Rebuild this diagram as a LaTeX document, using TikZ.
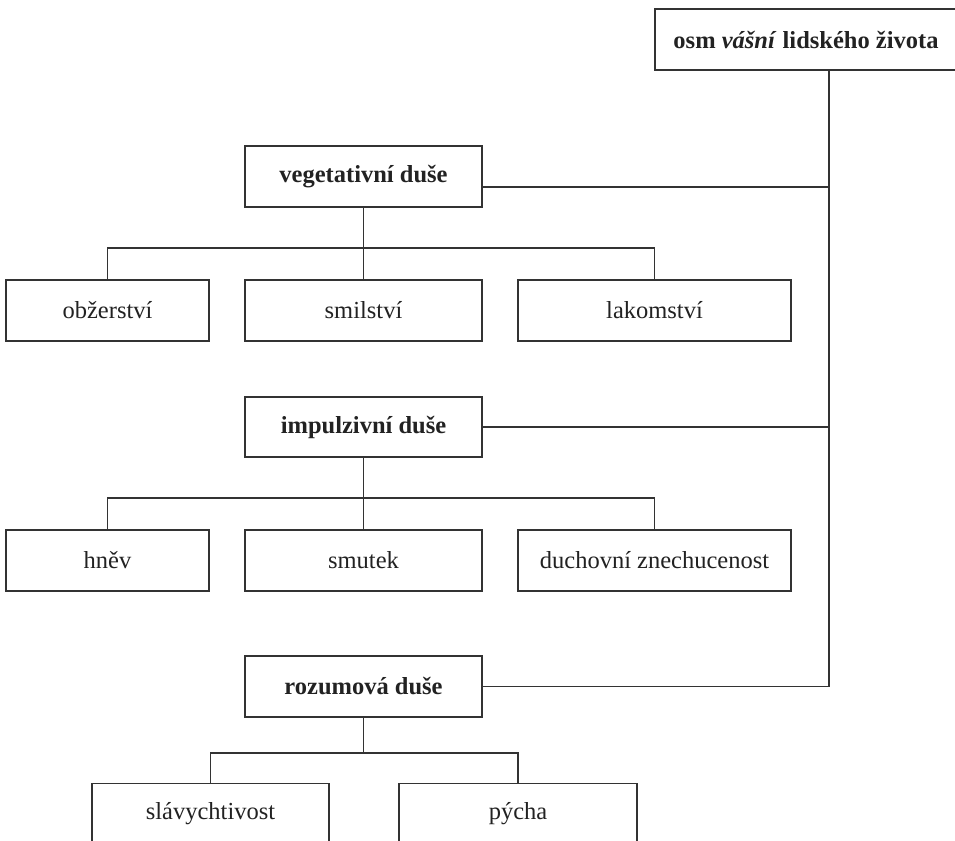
\documentclass[tikz,border=0pt]{standalone}
\usepackage{fontspec}
\setmainfont{Liberation Serif}
\definecolor{linec}{HTML}{333333}
\definecolor{textc}{HTML}{222222}
\begin{document}
\begin{tikzpicture}[x=1pt,y=-1pt]
\tikzset{
  box/.style={draw=linec, line width=1.9pt, fill=white, inner sep=0pt,
    minimum height=61pt, text=textc, font=\fontsize{24.5}{28}\selectfont},
  hd/.style={box, font=\fontsize{24.5}{28}\selectfont\bfseries},
  conn/.style={draw=linec, line width=1.9pt}
}
\useasboundingbox (0,0) rectangle (955,840);
\clip (0,0) rectangle (955,840);

% nodes
\node[hd, minimum width=302pt] (top) at (806,39.5) {osm \textit{vášní} lidského života};
\node[hd, minimum width=237pt] (veg) at (363.5,176.5) {vegetativní duše};
\node[box, minimum width=203pt] (obz) at (107.5,310.5) {obžerství};
\node[box, minimum width=237pt] (smil) at (363.5,310.5) {smilství};
\node[box, minimum width=273pt] (lak) at (654.5,310.5) {lakomství};
\node[hd, minimum width=237pt, minimum height=60pt] (imp) at (363.5,427) {impulzivní duše};
\node[box, minimum width=203pt] (hnev) at (107.5,560.5) {hněv};
\node[box, minimum width=237pt] (smut) at (363.5,560.5) {smutek};
\node[box, minimum width=273pt] (duch) at (654.5,560.5) {duchovní znechucenost};
\node[hd, minimum width=237pt] (roz) at (363.5,686.5) {rozumová duše};
\node[box, minimum width=237pt] (slav) at (210.5,814) {slávychtivost};
\node[box, minimum width=238pt] (pych) at (518,814) {pýcha};

% trunk
\coordinate (trk) at (829,687);
\coordinate (vegc) at (829,187);
\draw[conn] (top.south -| trk) -- (trk);
\draw[conn] ([yshift=-10.5pt]veg.east) -- (vegc);
\draw[conn] (imp.east) -- (imp.east -| trk);
\draw[conn] (roz.east) -- (roz.east -| trk);

% vegetative branch
\coordinate (vb) at (363.5,248);
\draw[conn] (veg.south) -- (vb);
\draw[conn] (obz.north) -- (obz.north |- vb) -- (lak.north |- vb) -- (lak.north);
\draw[conn] (vb) -- (smil.north);

% impulsive branch
\coordinate (ib) at (363.5,498);
\draw[conn] (imp.south) -- (ib);
\draw[conn] (hnev.north) -- (hnev.north |- ib) -- (duch.north |- ib) -- (duch.north);
\draw[conn] (ib) -- (smut.north);

% rational branch
\coordinate (rb) at (363.5,753);
\draw[conn] (roz.south) -- (rb);
\draw[conn] (slav.north) -- (slav.north |- rb) -- (pych.north |- rb) -- (pych.north);
\end{tikzpicture}
\end{document}
